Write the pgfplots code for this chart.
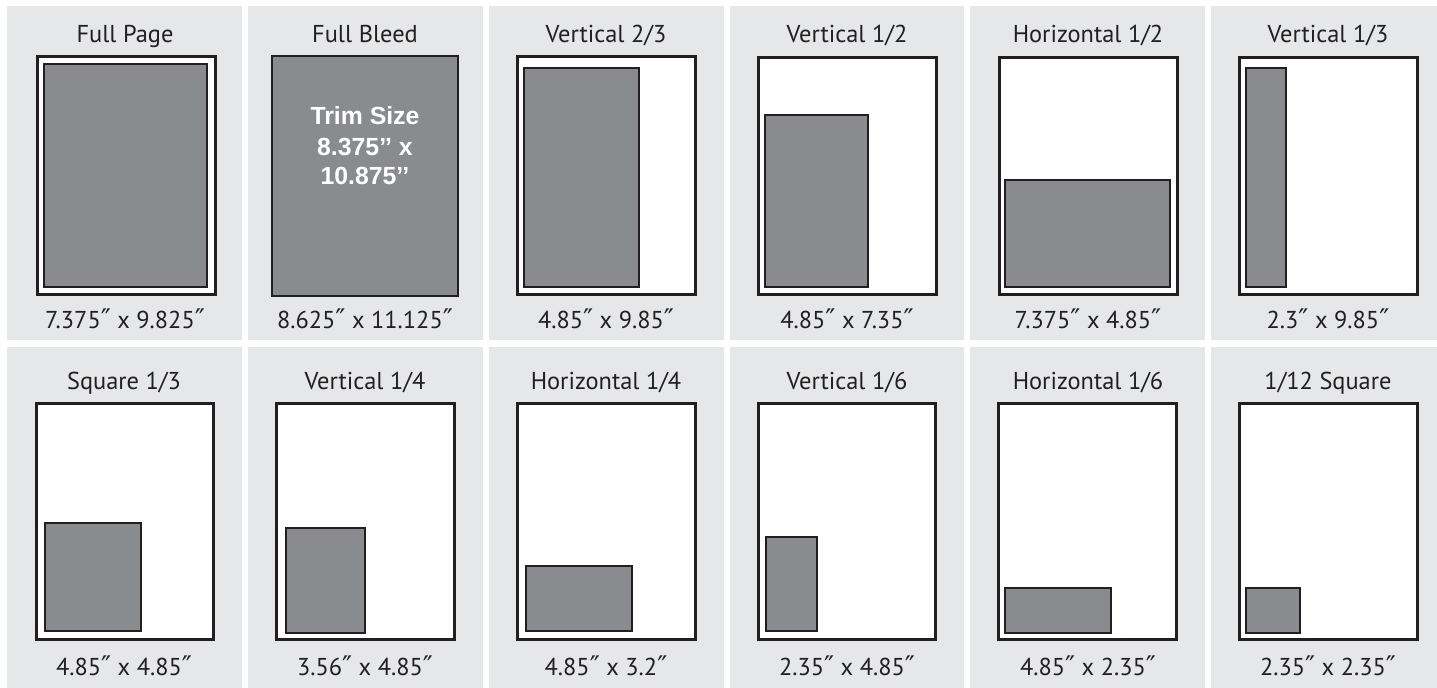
\documentclass[border=0pt]{standalone}
\usepackage{pgfplots}
\pgfplotsset{compat=1.18}
\usepackage{fontspec}
\setmainfont{PT Sans}
\newfontfamily\trimfont{Liberation Sans}
\newfontfamily\primefont{DejaVu Sans}
\newcommand\dq{{\primefont\fontsize{13.5}{14}\selectfont ″}}
\definecolor{panelbg}{HTML}{E6E7E8}
\definecolor{adgray}{HTML}{8A8B8E}
\definecolor{ink}{HTML}{231F20}
\newcommand\rect[5]{\addplot[#1] coordinates {(#2,#3) (#4,#3) (#4,#5) (#2,#5)} -- cycle;}
\tikzset{pagebox/.style={fill=white,draw=ink,line width=1.5pt},
  adbox/.style={fill=adgray,draw=ink,line width=1.4pt},
  ttl/.style={anchor=base,font=\fontsize{12.2}{14}\selectfont,text=ink,inner sep=0pt},
  dim/.style={anchor=base,font=\fontsize{12.2}{14}\selectfont,text=ink,inner sep=0pt},
  trim/.style={anchor=base,inner sep=0pt,text=white,font=\trimfont\bfseries\fontsize{12.4}{14}\selectfont}}
\begin{document}
\begin{tikzpicture}
\begin{axis}[width=718.5pt,height=344pt,scale only axis,
  xmin=0,xmax=1437,ymin=0,ymax=688,y dir=reverse,
  axis lines=none,ticks=none,clip=false]
% background
\rect{fill=white,draw=none}{0}{0}{1437}{688}
% panels row 1
\rect{fill=panelbg,draw=none}{7}{6}{242}{340}
\rect{fill=panelbg,draw=none}{248}{6}{483}{340}
\rect{fill=panelbg,draw=none}{489}{6}{724}{340}
\rect{fill=panelbg,draw=none}{730}{6}{964}{340}
\rect{fill=panelbg,draw=none}{970}{6}{1205}{340}
\rect{fill=panelbg,draw=none}{1211}{6}{1437}{340}
% panels row 2
\rect{fill=panelbg,draw=none}{7}{347}{242}{688}
\rect{fill=panelbg,draw=none}{248}{347}{483}{688}
\rect{fill=panelbg,draw=none}{489}{347}{724}{688}
\rect{fill=panelbg,draw=none}{730}{347}{964}{688}
\rect{fill=panelbg,draw=none}{970}{347}{1205}{688}
\rect{fill=panelbg,draw=none}{1211}{347}{1437}{688}
% pages row 1
\rect{pagebox}{37}{57}{215}{295}
\rect{pagebox}{517}{57}{695}{295}
\rect{pagebox}{758}{58}{936}{295}
\rect{pagebox}{999}{58}{1177}{295}
\rect{pagebox}{1239}{58}{1417}{295}
% pages row 2
\rect{pagebox}{36}{404}{213}{640}
\rect{pagebox}{276}{404}{454}{640}
\rect{pagebox}{517}{404}{695}{640}
\rect{pagebox}{758}{404}{935}{640}
\rect{pagebox}{998}{404}{1176}{640}
\rect{pagebox}{1239}{404}{1417}{640}
% ads row 1
\rect{adbox}{44}{64}{207}{287}
\rect{adbox}{272}{56}{458}{296}
\rect{adbox}{524}{68}{639}{287}
\rect{adbox}{765}{115}{868}{287}
\rect{adbox}{1005}{180}{1170}{287}
\rect{adbox}{1246}{68}{1286}{287}
% ads row 2
\rect{adbox}{45}{523}{141}{631}
\rect{adbox}{286}{528}{365}{633}
\rect{adbox}{526}{566}{632}{631}
\rect{adbox}{766}{537}{817}{631}
\rect{adbox}{1005}{588}{1111}{633}
\rect{adbox}{1246}{588}{1300}{633}
% titles row 1
\node[ttl] at (axis cs:125,43) {Full Page};
\node[ttl] at (axis cs:365,43) {Full Bleed};
\node[ttl] at (axis cs:606,43) {Vertical 2/3};
\node[ttl] at (axis cs:847,43) {Vertical 1/2};
\node[ttl] at (axis cs:1088,43) {Horizontal 1/2};
\node[ttl] at (axis cs:1328,43) {Vertical 1/3};
% titles row 2
\node[ttl] at (axis cs:124,390) {Square 1/3};
\node[ttl] at (axis cs:365,390) {Vertical 1/4};
\node[ttl] at (axis cs:606,390) {Horizontal 1/4};
\node[ttl] at (axis cs:847,390) {Vertical 1/6};
\node[ttl] at (axis cs:1088,390) {Horizontal 1/6};
\node[ttl] at (axis cs:1328,390) {1/12 Square};
% dims row 1
\node[dim] at (axis cs:125,329) {7.375\dq{} x 9.825\dq};
\node[dim] at (axis cs:365,329) {8.625\dq{} x 11.125\dq};
\node[dim] at (axis cs:606,329) {4.85\dq{} x 9.85\dq};
\node[dim] at (axis cs:847,329) {4.85\dq{} x 7.35\dq};
\node[dim] at (axis cs:1088,329) {7.375\dq{} x 4.85\dq};
\node[dim] at (axis cs:1328,329) {2.3\dq{} x 9.85\dq};
% dims row 2
\node[dim] at (axis cs:124,676) {4.85\dq{} x 4.85\dq};
\node[dim] at (axis cs:365,676) {3.56\dq{} x 4.85\dq};
\node[dim] at (axis cs:606,676) {4.85\dq{} x 3.2\dq};
\node[dim] at (axis cs:847,676) {2.35\dq{} x 4.85\dq};
\node[dim] at (axis cs:1088,676) {4.85\dq{} x 2.35\dq};
\node[dim] at (axis cs:1328,676) {2.35\dq{} x 2.35\dq};
% trim size
\node[trim] at (axis cs:365,125) {Trim Size};
\node[trim] at (axis cs:365,156) {8.375’’ x};
\node[trim] at (axis cs:365,185) {10.875’’};
\end{axis}
\end{tikzpicture}
\end{document}
